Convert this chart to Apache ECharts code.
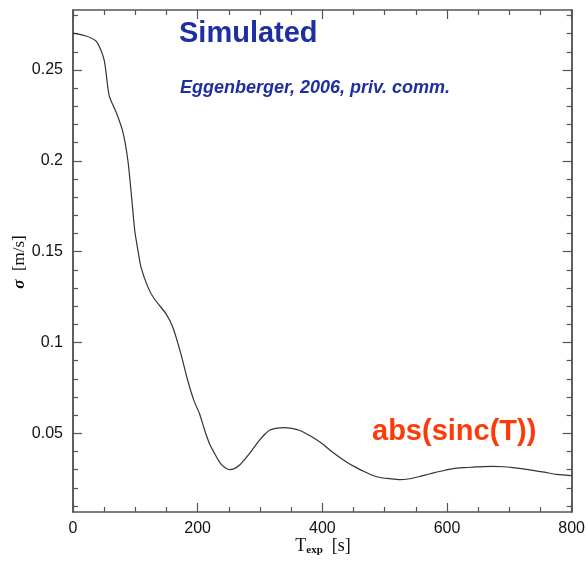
<!DOCTYPE html>
<html><head><meta charset="utf-8">
<script src="https://cdn.jsdelivr.net/npm/echarts@6/dist/echarts.min.js"></script>
<style>html,body{margin:0;padding:0;background:#fff}#c{width:588px;height:561px}</style>
</head><body><div id="c"></div>
<script>
const texp = [0, 20, 38, 50, 58, 70, 80, 88, 94, 99, 104, 109, 120, 130, 149, 160, 173, 184, 194, 203, 211, 219, 227, 235, 243, 251, 259, 267, 275, 283, 291, 299, 307, 315, 327, 339, 351, 363, 381, 400, 413, 427, 440, 453, 467, 480, 493, 507, 524, 540, 557, 570, 584, 597, 610, 626, 642, 658, 674, 690, 706, 722, 738, 756, 776, 790, 800];
const sigma = [0.2703, 0.2688, 0.2655, 0.2554, 0.2360, 0.2260, 0.2159, 0.2003, 0.1801, 0.1618, 0.1510, 0.1416, 0.1306, 0.1242, 0.1159, 0.1085, 0.0939, 0.0792, 0.0680, 0.0608, 0.0520, 0.0443, 0.0390, 0.0342, 0.0313, 0.0300, 0.0306, 0.0324, 0.0354, 0.0388, 0.0425, 0.0461, 0.0492, 0.0517, 0.0529, 0.0531, 0.0527, 0.0517, 0.0485, 0.0443, 0.0406, 0.0370, 0.0340, 0.0314, 0.0290, 0.0269, 0.0257, 0.0251, 0.0245, 0.0250, 0.0263, 0.0275, 0.0287, 0.0297, 0.0306, 0.0311, 0.0314, 0.0317, 0.0318, 0.0316, 0.0311, 0.0304, 0.0296, 0.0286, 0.0274, 0.0270, 0.0267];
const yMajor = [0.05, 0.1, 0.15, 0.2, 0.25];
const yMajorLabels = ['0.05', '0.1', '0.15', '0.2', '0.25'];
const yMinor = [0.01,0.02,0.03,0.04,0.06,0.07,0.08,0.09,0.11,0.12,0.13,0.14,0.16,0.17,0.18,0.19,0.21,0.22,0.23,0.24,0.26,0.27,0.28];
const xMajor = [0, 200, 400, 600, 800];

const axCol = '#555';
const yMin = 0.0067, yMax = 0.283;
const chart = echarts.init(document.getElementById('c'));
const labelFont = {fontFamily: 'Liberation Sans', fontSize: 16, color: '#111'};
function yAx(pos, ticks, len, labels) {
  return {type: 'value', position: pos, min: yMin, max: yMax,
    axisLine: {show: true, onZero: false, lineStyle: {color: axCol, width: 1.5}},
    axisTick: {show: true, inside: true, length: len, customValues: ticks, lineStyle: {color: axCol, width: 1.2}},
    axisLabel: labels ? Object.assign({show: true, customValues: yMajor, margin: 10,
      formatter: v => yMajorLabels[yMajor.findIndex(m => Math.abs(m - v) < 1e-9)] ?? ''}, labelFont) : {show: false},
    splitLine: {show: false}};
}
function xAx(pos, labels) {
  return {type: 'value', position: pos, min: 0, max: 800, interval: 200,
    axisLine: {show: true, onZero: false, lineStyle: {color: axCol, width: 1.5}},
    axisTick: {show: true, inside: true, length: 9, lineStyle: {color: axCol, width: 1.2}},
    minorTick: {show: true, splitNumber: 4, length: 5, lineStyle: {color: axCol, width: 1.2}},
    axisLabel: labels ? Object.assign({show: true, margin: 9}, labelFont) : {show: false},
    splitLine: {show: false}, minorSplitLine: {show: false}};
}
chart.setOption({
  animation: false,
  backgroundColor: '#fff',
  grid: {left: 73, right: 15, top: 10, bottom: 49},
  xAxis: [xAx('bottom', true), xAx('top', false)],
  yAxis: [yAx('left', yMajor, 9, true), yAx('left', yMinor, 5, false), yAx('right', yMajor, 9, false), yAx('right', yMinor, 5, false)],
  series: [{type: 'line', xAxisIndex: 0, yAxisIndex: 0, data: texp.map((t, i) => [t, sigma[i]]),
    showSymbol: false, smooth: 0.25, lineStyle: {color: '#333', width: 1.2}}],
  graphic: [
    {type: 'text', left: 179, top: 19, style: {text: 'Simulated', font: 'bold 29px "Liberation Sans"', fill: '#1f2f9f'}},
    {type: 'text', left: 180, top: 79, style: {text: 'Eggenberger, 2006, priv. comm.', font: 'italic bold 18px "Liberation Sans"', fill: '#1f2f9f'}},
    {type: 'text', left: 372, top: 417, style: {text: 'abs(sinc(T))', font: 'bold 29px "Liberation Sans"', fill: '#ff3a0a'}},
    {type: 'text', x: 20, y: 262, rotation: Math.PI / 2, style: {text: '{s|σ}  [m/s]', align: 'center', verticalAlign: 'middle',
      rich: {s: {font: 'italic bold 17px "Liberation Serif"', fill: '#111'}}, font: '17px "Liberation Serif"', fill: '#111'}},
    {type: 'text', x: 323, y: 546, style: {text: 'T{sub|exp}  [s]', align: 'center', verticalAlign: 'middle',
      rich: {sub: {font: 'bold 11px "Liberation Serif"', fill: '#111', padding: [9, 0, 0, 0]}}, font: '18px "Liberation Serif"', fill: '#111'}}
  ]
});
</script></body></html>
